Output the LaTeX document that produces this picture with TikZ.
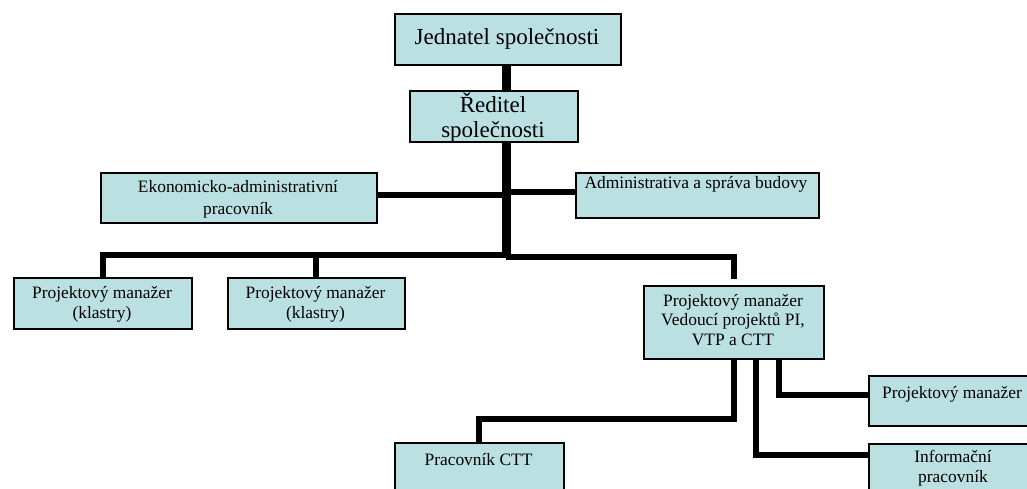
\documentclass[tikz,border=0pt]{standalone}
\usepackage{fontspec}
\setmainfont{Liberation Serif}
\definecolor{boxfill}{RGB}{187,224,226}
\begin{document}
\begin{tikzpicture}[x=1pt,y=-1pt,
  box/.style={draw=black, line width=1.6pt, fill=boxfill, inner sep=0pt, anchor=north west},
  bigtxt/.style={font=\fontsize{23}{25}\selectfont, anchor=base, inner sep=0pt, align=center},
  smalltxt/.style={font=\fontsize{17.4}{19.5}\selectfont, anchor=base, inner sep=0pt, align=center},
  spine/.style={line width=9pt},
  link/.style={line width=6pt}]
\useasboundingbox (0,0) rectangle (1027,488);
\clip (0,0) rectangle (1027,488);
% boxes
\node[box, minimum width=226pt, minimum height=51pt] (jed) at (394,13) {};
\node[box, minimum width=168pt, minimum height=51pt] (red) at (409,90) {};
\node[box, minimum width=276pt, minimum height=50pt] (ekon) at (100,172) {};
\node[box, minimum width=243pt, minimum height=45pt] (admin) at (575,172) {};
\node[box, minimum width=178pt, minimum height=51pt] (pm1) at (13,277) {};
\node[box, minimum width=177pt, minimum height=51pt] (pm2) at (227,277) {};
\node[box, minimum width=180pt, minimum height=73pt] (pm3) at (643,285) {};
\node[box, minimum width=170pt, minimum height=50pt] (pm4) at (868,375) {};
\node[box, minimum width=169pt, minimum height=60pt] (ctt) at (394,442) {};
\node[box, minimum width=170pt, minimum height=60pt] (info) at (868,443) {};
% connector coordinates
\coordinate (sx) at (506,0);
\coordinate (ye) at (0,194.5);
\coordinate (ya) at (0,192);
\coordinate (busL) at (0,255);
\coordinate (busR) at (0,257);
\coordinate (pm3top) at ([yshift=6pt]pm3.north);
\coordinate (y1) at (0,418.5);
\coordinate (x2) at (756,0);
\coordinate (y2) at (0,454.5);
\coordinate (x3) at (778.5,0);
\coordinate (y3) at (0,394.5);
% connectors
\draw[spine] (jed.south -| sx) -- (red.north -| sx);
\draw[spine] (red.south -| sx) -- (sx |- 0,258);
\draw[link] (ekon.east |- ye) -- (sx |- ye);
\draw[link] (sx |- ya) -- (admin.west |- ya);
\draw[link] (pm1.north) -- (pm1.north |- busL) -- (sx |- busL);
\draw[link] (pm2.north) -- (pm2.north |- busL);
\draw[link] (sx |- busR) -- (pm3top |- busR) -- (pm3top);
\draw[link] (pm3.south) -- (pm3.south |- y1) -- (ctt.north |- y1) -- (ctt.north);
\draw[link] (pm3.south -| x2) -- (x2 |- y2) -- (info.west |- y2);
\draw[link] (pm3.south -| x3) -- (x3 |- y3) -- (pm4.west |- y3);
% texts (base anchor = baseline of the last line)
\node[bigtxt] (tjed) at (507,44) {Jednatel společnosti};
\node[bigtxt] (tred) at (493,137) {Ředitel\\společnosti};
\node[smalltxt] (tekon) at (238,214) {Ekonomicko-administrativní\\[2pt]pracovník};
\node[smalltxt] (tadmin) at (696,188) {Administrativa a správa budovy};
\node[smalltxt] (tpm1) at (102,318) {Projektový manažer\\(klastry)};
\node[smalltxt] (tpm2) at (315.5,318) {Projektový manažer\\(klastry)};
\node[smalltxt] (tpm3) at (733,345) {Projektový manažer\\Vedoucí projektů PI,\\VTP a CTT};
\node[smalltxt] (tpm4) at (952,398) {Projektový manažer};
\node[smalltxt] (tctt) at (478.5,465) {Pracovník CTT};
\node[smalltxt] (tinfo) at (953,482) {Informační\\pracovník};
\end{tikzpicture}
\end{document}
